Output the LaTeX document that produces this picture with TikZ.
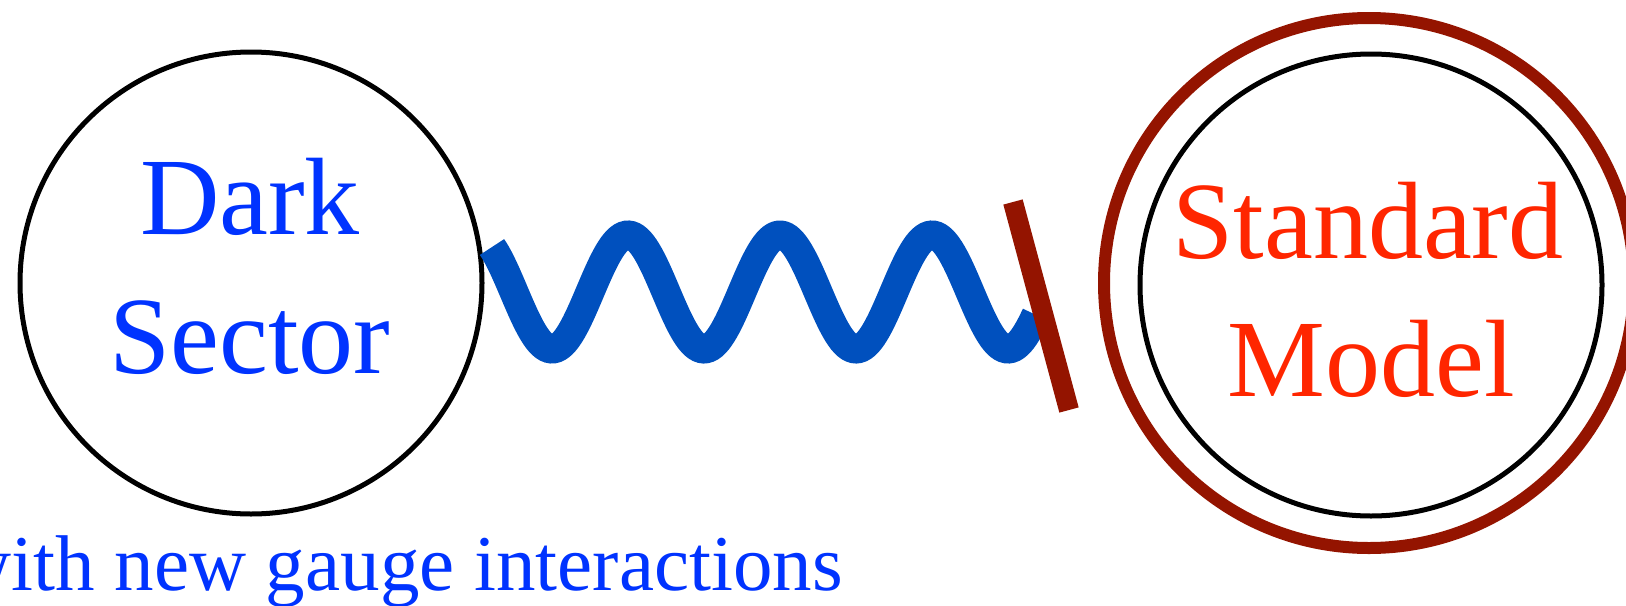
\documentclass[tikz,border=0pt]{standalone}
\usepackage{fontspec}
\setmainfont{Liberation Serif}
\definecolor{dsblue}{RGB}{0,51,255}
\definecolor{smred}{RGB}{255,38,0}
\definecolor{wavecol}{RGB}{0,80,190}
\definecolor{barcol}{RGB}{148,20,0}
\begin{document}
\begin{tikzpicture}[x=0.5pt,y=-0.5pt,
  ring/.style={draw, circle, inner sep=0pt, outer sep=0pt},
  bigtext/.style={font=\fontsize{55pt}{66pt}\selectfont, inner sep=0pt, anchor=base},
  smalltext/.style={font=\fontsize{39.5pt}{47pt}\selectfont, inner sep=0pt, anchor=base west, text=dsblue}]
\useasboundingbox (0,0) rectangle (1626,605);
\clip (0,0) rectangle (1626,605);
% dark sector
\node[ring, line width=2.5pt, minimum size=231pt] (ds) at (251,283) {};
\node[bigtext, text=dsblue] (dark) at (250,234) {Dark};
\node[bigtext, text=dsblue] (sector) at (250,373) {Sector};
% standard model
\node[ring, draw=barcol, line width=6pt, minimum size=265pt] (smout) at (1369,283) {};
\node[ring, line width=2.5pt, minimum size=231pt] (smin) at (1371,285) {};
\node[bigtext, text=smred] (standard) at (1368,258) {Standard};
\node[bigtext, text=smred] (model) at (1371,396) {Model};
% wave
\coordinate (wstart) at (492,244);
\coordinate (bartop) at (1013,202);
\coordinate (barbot) at (1069,410);
\draw[wavecol, line width=14.5pt, domain=492:1036, samples=240]
  plot (\x, {292 - 57*cos(2.368421*(\x-476))});
% barrier
\draw[barcol, line width=10pt] (bartop) -- (barbot);
% caption
\node[smalltext] (caption) at (-46,590) {with new gauge interactions};
\end{tikzpicture}
\end{document}
